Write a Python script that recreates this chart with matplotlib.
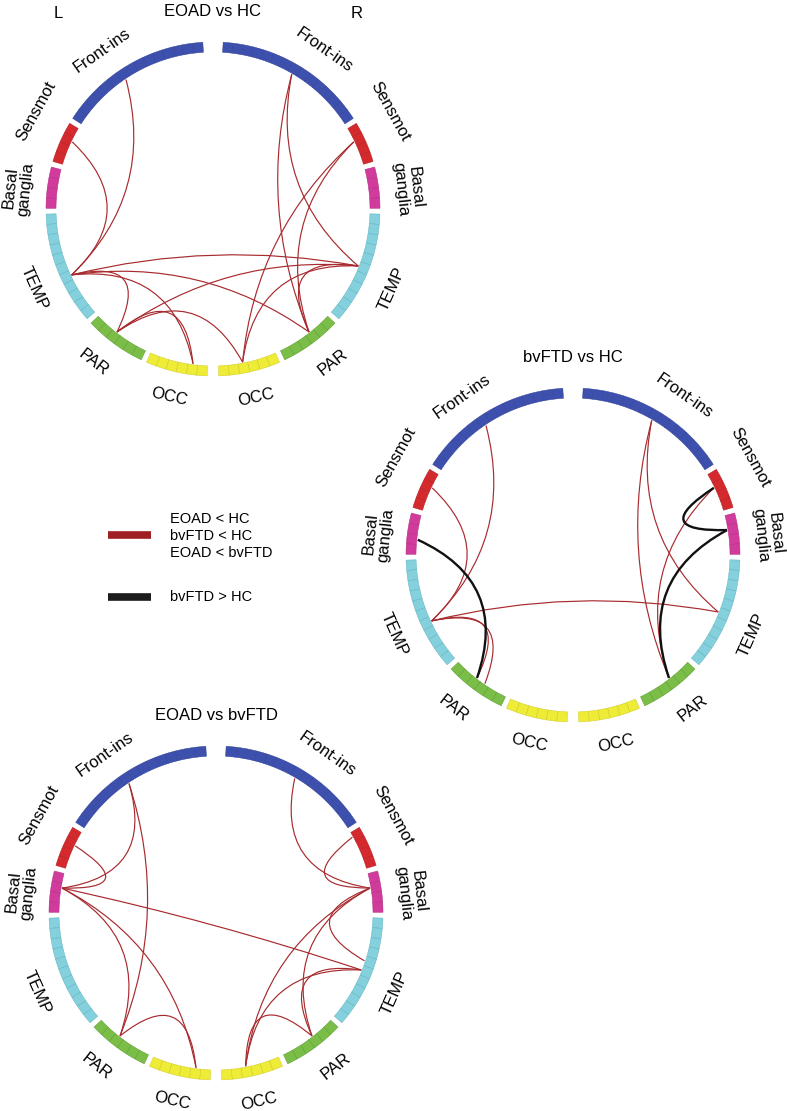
import numpy as np
import matplotlib.pyplot as plt
from matplotlib.patches import Wedge, PathPatch
from matplotlib.path import Path

plt.rcParams['font.family'] = ['Liberation Sans', 'DejaVu Sans']

# ring layout (per hemisphere, top to bottom)
region_keys = ['F', 'S', 'B', 'T', 'P', 'O']
region_names = ['Front-ins', 'Sensmot', 'Basal\nganglia', 'TEMP', 'PAR', 'OCC']
n_nodes = [15, 4, 4, 11, 6, 6]
region_colors = ['#3d50ad', '#d42a2e', '#d13c9c', '#84d0dc', '#7abd47', '#efec38']
cell_edges = ['#2e3f94', '#b01c20', '#b02a80', '#62b4c2', '#5e9d33', '#cfcb20']
label_angles = [35, 61, 84, 114, 142, 167]
label_radii = [194, 202, 196, 196, 195, 193]

# significant connections: (hemi, region, node, hemi, region, node, kind)
# kind 'r' = decrease (EOAD<HC, bvFTD<HC, EOAD<bvFTD), 'k' = bvFTD > HC
eoad_hc = [
    ('L', 'F', 8, 'L', 'T', 6, 'r'),
    ('L', 'S', 1, 'L', 'T', 6, 'r'),
    ('L', 'T', 6, 'R', 'T', 5, 'r'),
    ('L', 'T', 6, 'R', 'P', 2, 'r'),
    ('L', 'T', 6, 'L', 'P', 2, 'r'),
    ('L', 'T', 6, 'L', 'O', 4, 'r'),
    ('L', 'P', 2, 'L', 'O', 4, 'r'),
    ('L', 'P', 2, 'R', 'O', 3, 'r'),
    ('L', 'P', 2, 'R', 'T', 5, 'r'),
    ('R', 'F', 7, 'R', 'P', 2, 'r'),
    ('R', 'F', 7, 'R', 'T', 5, 'r'),
    ('R', 'S', 1, 'R', 'P', 2, 'r'),
    ('R', 'S', 1, 'R', 'O', 3, 'r'),
    ('R', 'T', 5, 'R', 'P', 2, 'r'),
    ('R', 'T', 5, 'R', 'O', 3, 'r'),
]
bvftd_hc = [
    ('L', 'F', 8, 'L', 'T', 6, 'r'),
    ('L', 'S', 1, 'L', 'T', 6, 'r'),
    ('L', 'T', 6, 'L', 'P', 2, 'r'),
    ('L', 'T', 6, 'L', 'P', 3, 'r'),
    ('L', 'T', 6, 'R', 'T', 5, 'r'),
    ('R', 'F', 7, 'R', 'P', 2, 'r'),
    ('R', 'F', 7, 'R', 'T', 5, 'r'),
    ('R', 'S', 1, 'R', 'P', 2, 'r'),
    ('L', 'B', 2, 'L', 'P', 2, 'k'),
    ('R', 'S', 1, 'R', 'B', 1, 'k'),
    ('R', 'B', 1, 'R', 'P', 2, 'k'),
]
eoad_bvftd = [
    ('L', 'F', 8, 'L', 'B', 1, 'r'),
    ('L', 'F', 8, 'L', 'P', 2, 'r'),
    ('L', 'S', 1, 'L', 'B', 1, 'r'),
    ('L', 'B', 1, 'L', 'P', 2, 'r'),
    ('L', 'B', 1, 'L', 'O', 4, 'r'),
    ('L', 'B', 1, 'R', 'T', 5, 'r'),
    ('L', 'P', 2, 'L', 'O', 4, 'r'),
    ('R', 'F', 7, 'R', 'B', 1, 'r'),
    ('R', 'S', 0, 'R', 'B', 1, 'r'),
    ('R', 'B', 1, 'R', 'T', 4, 'r'),
    ('R', 'B', 1, 'R', 'P', 2, 'r'),
    ('R', 'B', 1, 'R', 'O', 3, 'r'),
    ('R', 'T', 5, 'R', 'P', 2, 'r'),
    ('R', 'T', 5, 'R', 'O', 3, 'r'),
    ('R', 'P', 2, 'R', 'O', 3, 'r'),
]
titles = ['EOAD vs HC', 'bvFTD vs HC', 'EOAD vs bvFTD']
legend_red = ['EOAD < HC', 'bvFTD < HC', 'EOAD < bvFTD']
legend_black = 'bvFTD > HC'

W, H = 787, 1111
R_OUT, R_IN = 167, 157
TOP_GAP, REG_GAP = 3.5, 2.0
CELL = (180 - TOP_GAP - 2 - REG_GAP * (len(n_nodes) - 1)) / sum(n_nodes)
RED = '#a82a2e'

# start angle (deg from top, clockwise) of each region
starts = []
a = TOP_GAP
for n in n_nodes:
    starts.append(a)
    a += n * CELL + REG_GAP


def node_angle(hemi, reg, idx):
    k = region_keys.index(reg)
    th = starts[k] + (idx + 0.5) * CELL
    return th if hemi == 'R' else -th


def polar(c, r, th):
    t = np.radians(th)
    return np.array([c[0] + r * np.sin(t), c[1] + r * np.cos(t)])


def draw_ring(ax, c, title, edges, show_lr=False):
    for k, n in enumerate(n_nodes):
        for i in range(n):
            a0 = starts[k] + i * CELL
            a1 = a0 + CELL
            for sgn in (1, -1):
                t1, t2 = sorted([90 - sgn * a0, 90 - sgn * a1])
                ax.add_patch(Wedge(c, R_OUT, t1, t2, width=R_OUT - R_IN,
                                   facecolor=region_colors[k], edgecolor=cell_edges[k],
                                   lw=0.35))
        for sgn in (1, -1):
            th = sgn * label_angles[k]
            p = polar(c, label_radii[k], th)
            rot = -th
            if rot > 90:
                rot -= 180
            elif rot < -90:
                rot += 180
            ax.text(p[0], p[1], region_names[k], rotation=rot, ha='center', va='center',
                    fontsize=12, linespacing=1.0, rotation_mode='anchor')
    for e in edges:
        p0 = polar(c, R_IN - 1, node_angle(*e[0:3]))
        p2 = polar(c, R_IN - 1, node_angle(*e[3:6]))
        mid = (p0 + p2) / 2
        ctrl = np.array(c) + 0.5 * (mid - np.array(c))
        path = Path([p0, ctrl, p2], [Path.MOVETO, Path.CURVE3, Path.CURVE3])
        black = e[6] == 'k'
        ax.add_patch(PathPatch(path, facecolor='none',
                               edgecolor='#111111' if black else RED,
                               lw=1.7 if black else 0.85, zorder=3 if black else 2))
    ax.text(c[0], c[1] + 198, title, ha='center', va='center', fontsize=12)
    if show_lr:
        ax.text(c[0] - 155, c[1] + 196, 'L', ha='center', va='center', fontsize=12)
        ax.text(c[0] + 144, c[1] + 196, 'R', ha='center', va='center', fontsize=12)


fig = plt.figure(figsize=(W / 100, H / 100), dpi=100)
ax = fig.add_axes([0, 0, 1, 1])
ax.set_xlim(0, W)
ax.set_ylim(0, H)
ax.set_aspect('equal')
ax.axis('off')

draw_ring(ax, (213, H - 209), titles[0], eoad_hc, show_lr=True)
draw_ring(ax, (573, H - 555), titles[1], bvftd_hc)
draw_ring(ax, (216, H - 913), titles[2], eoad_bvftd)

# legend
ax.plot([108, 151], [H - 535, H - 535], color='#9e1f24', lw=5.5, solid_capstyle='butt')
for i, t in enumerate(legend_red):
    ax.text(170, H - 519 - 17 * i, t, ha='left', va='center', fontsize=10.5)
ax.plot([108, 151], [H - 597, H - 597], color='#1c1c1c', lw=5.5, solid_capstyle='butt')
ax.text(170, H - 597, legend_black, ha='left', va='center', fontsize=10.5)

fig.savefig('out.png', dpi=100)
